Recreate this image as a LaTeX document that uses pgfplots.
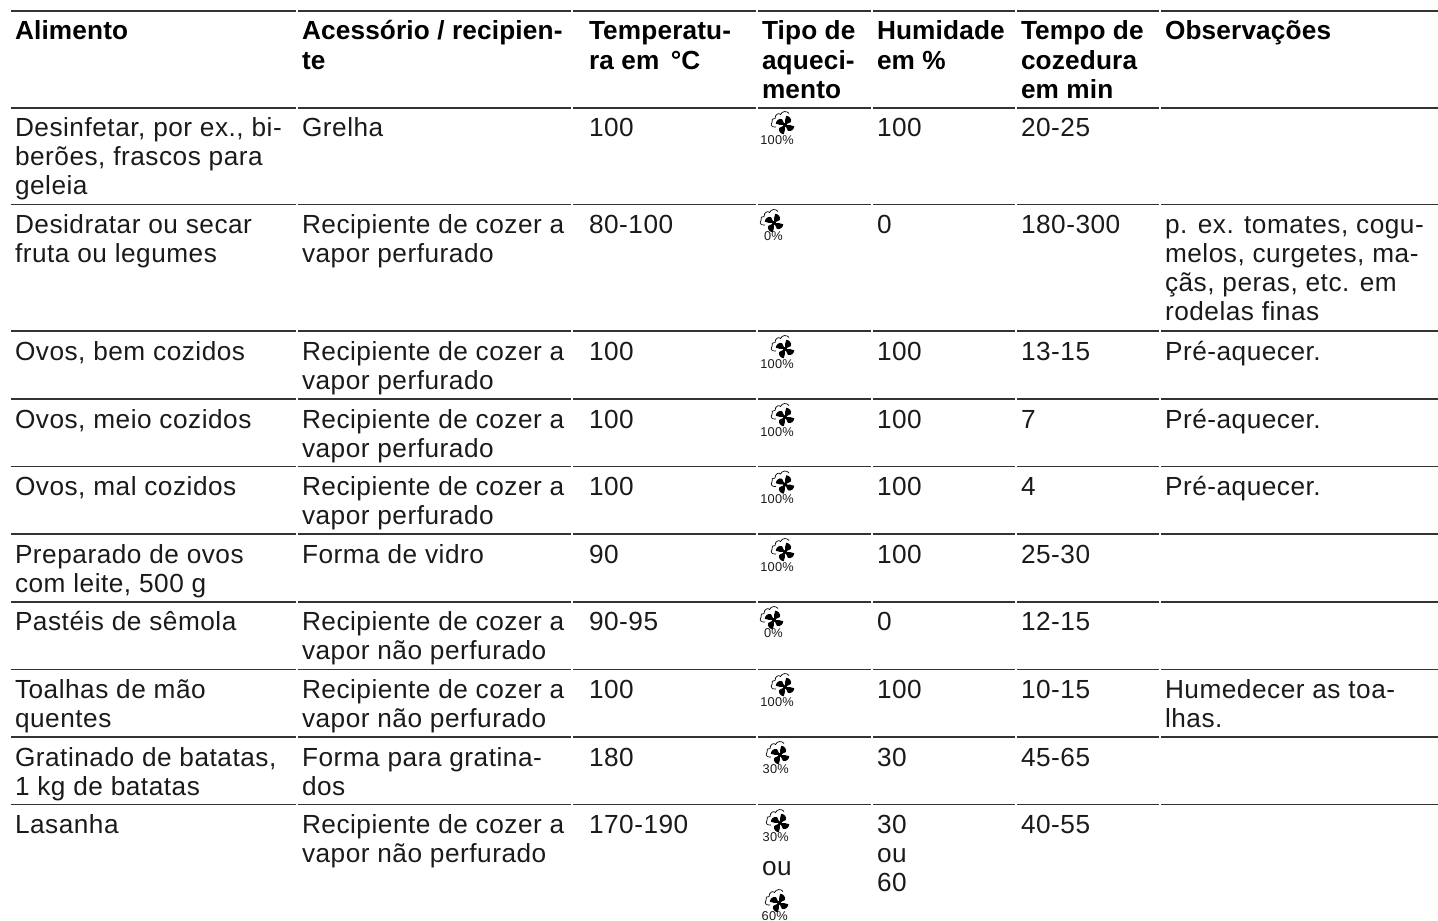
\documentclass[border=0pt]{standalone}
\usepackage{pgfplots}
\pgfplotsset{compat=1.18}
\usepackage{fontspec}
\setmainfont{Liberation Sans}[LetterSpace=2.0,BoldFeatures={LetterSpace=0.6}]
\definecolor{rulec}{HTML}{333333}
\definecolor{txt}{HTML}{1A1A1A}
\newcommand\fs{\fontsize{26.2pt}{29pt}\selectfont}
% regular and bold text lines, placed by their baseline
\newcommand\T[3]{\node[anchor=base west,inner sep=0pt,outer sep=0pt,text=txt,font=\fs] at (axis cs:#1,#2) {#3};}
\newcommand\B[3]{\node[anchor=base west,inner sep=0pt,outer sep=0pt,text=black,font=\fs\bfseries] at (axis cs:#1,#2) {#3};}
% one table rule with small gaps at column starts
\newcommand\R[1]{%
 \addplot[rulec,line width=1.5pt] coordinates {(11,#1) (296.4,#1)};
 \addplot[rulec,line width=1.5pt] coordinates {(297.6,#1) (571.4,#1)};
 \addplot[rulec,line width=1.5pt] coordinates {(572.6,#1) (756.4,#1)};
 \addplot[rulec,line width=1.5pt] coordinates {(757.6,#1) (871.4,#1)};
 \addplot[rulec,line width=1.5pt] coordinates {(872.6,#1) (1015.4,#1)};
 \addplot[rulec,line width=1.5pt] coordinates {(1016.6,#1) (1159.4,#1)};
 \addplot[rulec,line width=1.5pt] coordinates {(1160.6,#1) (1438,#1)};
}
\newcommand\blade{(0,0) .. controls (-1,3.4) and (-1.3,6) .. (-0.7,9.3) .. controls (2.6,9.8) and (5.5,7.2) .. (5.1,4.2) .. controls (3.4,3) and (1.7,1.3) .. (0,0) -- cycle}
% heating-mode symbol: fan with steam cloud, label right-aligned beneath it
\newcommand\fan[5]{%
 \begin{scope}[shift={(axis cs:#1,#2)},x=1pt,y=1pt]
  \begin{scope}[shift={(1,-1)}]
  \fill[black,rotate=-12] \blade;
  \fill[black,rotate=-102] \blade;
  \fill[black,rotate=-192] \blade;
  \fill[black,rotate=-282] \blade;
  \fill[black] (0,0) circle (2);
  \end{scope}
  \draw[black,line width=0.7pt] (-8,-3) .. controls (-12,-3.5) and (-14,-1) .. (-12,1.5) .. controls (-13,4) and (-11,6.5) .. (-9,5.5) .. controls (-9,10) and (-5,11.5) .. (-3.5,9.5) .. controls (-2,13) and (3,13.5) .. (5,10.5);
  \node[anchor=base east,inner sep=0pt,font=\fontsize{12.8pt}{13pt}\selectfont,text=txt] at (#3,-#4) {#5};
 \end{scope}}
\begin{document}
\begin{tikzpicture}
\path[use as bounding box] (0,0) rectangle (1438pt,921pt);
\clip (0,0) rectangle (1438pt,921pt);
\begin{axis}[at={(0,0)},anchor=south west,scale only axis,width=1438pt,height=921pt,
  xmin=0,xmax=1438,ymin=0,ymax=921,y dir=reverse,hide axis,clip=false]
\R{11}\R{108}\R{204.5}\R{331}\R{399}\R{466.5}\R{534}\R{602}\R{669.5}\R{737}\R{804.5}
% header
\B{15}{39.5}{Alimento}
\B{302}{39.5}{Acessório / recipien-}
\B{302}{69}{te}
\B{589}{39.5}{Temperatu-}
\B{589}{69}{ra em\hspace{4pt} °C}
\B{762}{39.5}{Tipo de}
\B{762}{69}{aqueci-}
\B{762}{98.5}{mento}
\B{877}{39.5}{Humidade}
\B{877}{69}{em \%}
\B{1021}{39.5}{Tempo de}
\B{1021}{69}{cozedura}
\B{1021}{98.5}{em min}
\B{1165}{39.5}{Observações}
% row 1
\T{15}{136.7}{Desinfetar, por ex., bi-}
\T{15}{165.7}{berões, frascos para}
\T{15}{194.7}{geleia}
\T{302}{136.7}{Grelha}
\T{589}{136.7}{100}
\fan{784}{124}{10}{20}{100\%}
\T{877}{136.7}{100}
\T{1021}{136.7}{20-25}
% row 2
\T{15}{233.5}{Desidratar ou secar}
\T{15}{262.5}{fruta ou legumes}
\T{302}{233.5}{Recipiente de cozer a}
\T{302}{262.5}{vapor perfurado}
\T{589}{233.5}{80-100}
\fan{773}{222}{10}{18}{0\%}
\T{877}{233.5}{0}
\T{1021}{233.5}{180-300}
\T{1165}{233.5}{p. ex. tomates, cogu-}
\T{1165}{262.5}{melos, curgetes, ma-}
\T{1165}{291.5}{çãs, peras, etc. em}
\T{1165}{320.5}{rodelas finas}
% row 3
\T{15}{360}{Ovos, bem cozidos}
\T{302}{360}{Recipiente de cozer a}
\T{302}{389}{vapor perfurado}
\T{589}{360}{100}
\fan{784}{348}{10}{20}{100\%}
\T{877}{360}{100}
\T{1021}{360}{13-15}
\T{1165}{360}{Pré-aquecer.}
% row 4
\T{15}{428}{Ovos, meio cozidos}
\T{302}{428}{Recipiente de cozer a}
\T{302}{457}{vapor perfurado}
\T{589}{428}{100}
\fan{784}{416}{10}{20}{100\%}
\T{877}{428}{100}
\T{1021}{428}{7}
\T{1165}{428}{Pré-aquecer.}
% row 5
\T{15}{495.5}{Ovos, mal cozidos}
\T{302}{495.5}{Recipiente de cozer a}
\T{302}{524.5}{vapor perfurado}
\T{589}{495.5}{100}
\fan{784}{483.5}{10}{20}{100\%}
\T{877}{495.5}{100}
\T{1021}{495.5}{4}
\T{1165}{495.5}{Pré-aquecer.}
% row 6
\T{15}{563}{Preparado de ovos}
\T{15}{592}{com leite, 500 g}
\T{302}{563}{Forma de vidro}
\T{589}{563}{90}
\fan{784}{551}{10}{20}{100\%}
\T{877}{563}{100}
\T{1021}{563}{25-30}
% row 7
\T{15}{630.5}{Pastéis de sêmola}
\T{302}{630.5}{Recipiente de cozer a}
\T{302}{659.5}{vapor não perfurado}
\T{589}{630.5}{90-95}
\fan{773}{619}{10}{18}{0\%}
\T{877}{630.5}{0}
\T{1021}{630.5}{12-15}
% row 8
\T{15}{698}{Toalhas de mão}
\T{15}{727}{quentes}
\T{302}{698}{Recipiente de cozer a}
\T{302}{727}{vapor não perfurado}
\T{589}{698}{100}
\fan{784}{686}{10}{20}{100\%}
\T{877}{698}{100}
\T{1021}{698}{10-15}
\T{1165}{698}{Humedecer as toa-}
\T{1165}{727}{lhas.}
% row 9
\T{15}{766}{Gratinado de batatas,}
\T{15}{795}{1 kg de batatas}
\T{302}{766}{Forma para gratina-}
\T{302}{795}{dos}
\T{589}{766}{180}
\fan{779}{754}{10}{19}{30\%}
\T{877}{766}{30}
\T{1021}{766}{45-65}
% row 10
\T{15}{833}{Lasanha}
\T{302}{833}{Recipiente de cozer a}
\T{302}{862}{vapor não perfurado}
\T{589}{833}{170-190}
\fan{779}{822}{10}{19}{30\%}
\T{762}{875}{ou}
\fan{778}{902}{10}{18}{60\%}
\T{877}{833}{30}
\T{877}{862}{ou}
\T{877}{891}{60}
\T{1021}{833}{40-55}
\end{axis}
\end{tikzpicture}
\end{document}
